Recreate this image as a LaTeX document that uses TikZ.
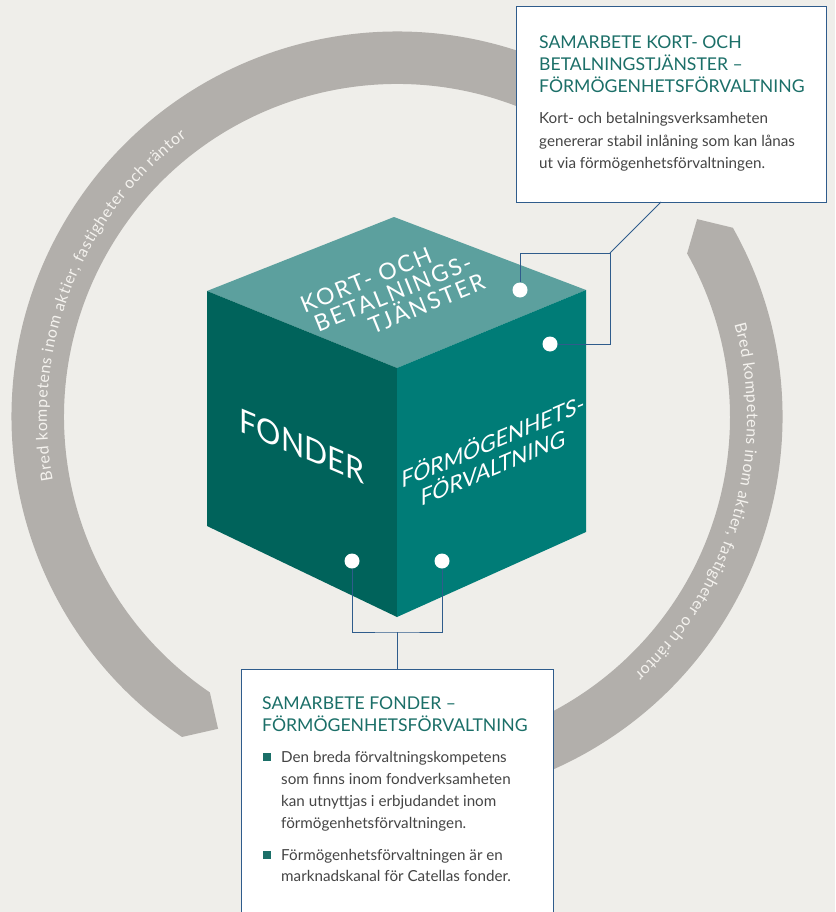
\documentclass[tikz,border=0pt]{standalone}
\usepackage{fontspec}
\setmainfont{Lato}
\usetikzlibrary{decorations.text}
\definecolor{bg}{HTML}{EFEEEA}
\definecolor{ring}{HTML}{B2AFAB}
\definecolor{topface}{HTML}{5CA09E}
\definecolor{leftface}{HTML}{00635B}
\definecolor{rightface}{HTML}{007C77}
\definecolor{titleteal}{HTML}{1B6F68}
\definecolor{bodygray}{HTML}{454545}
\definecolor{linkblue}{HTML}{2F5C8C}
\definecolor{ringtext}{HTML}{F4F2EE}
\tikzset{
  infobox/.style={draw=linkblue, line width=1pt, fill=white, inner sep=0pt},
  link/.style={draw=linkblue, line width=0.9pt},
  dot/.style={circle, fill=white, inner sep=0pt, minimum size=15pt},
  titletext/.style={anchor=base west, inner sep=0pt, text=titleteal, font=\fontsize{17.6}{22}\selectfont},
  bodytext/.style={anchor=base west, inner sep=0pt, text=bodygray, font=\fontsize{15.2}{22}\selectfont},
  bulletsq/.style={fill=titleteal, draw=none, inner sep=0pt, minimum size=8pt},
  cubetext/.style={inner sep=0pt, text=white, align=center},
  toptext/.style={cubetext, rotate=22, font=\fontsize{23}{23}\selectfont\addfontfeature{LetterSpace=9}},
}
\begin{document}
\begin{tikzpicture}[x=1pt,y=-1pt]
\useasboundingbox (0,0) rectangle (835,912);
\fill[bg] (0,0) rectangle (835,912);
\clip (0,0) rectangle (835,912);

% ring arcs
\fill[ring] ({397+385.5*cos(123.9)},{417+385.5*sin(123.9)}) arc[start angle=123.9, end angle=300, radius=385.5]
  -- ({397+333*cos(300)},{417+333*sin(300)}) arc[start angle=300, end angle=124.2, radius=333]
  -- ({397+359.5*cos(119.85)},{417+359.5*sin(119.85)}) -- cycle;
\fill[ring] ({397+385.5*cos(-29.4)},{417+385.5*sin(-29.4)}) arc[start angle=-29.4, end angle=100, radius=385.5]
  -- ({397+333*cos(100)},{417+333*sin(100)}) arc[start angle=100, end angle=-29.4, radius=333]
  -- ({397+359.5*cos(-33.4)},{417+359.5*sin(-33.4)}) -- cycle;

% ring texts
\path[decorate, decoration={text along path, text align=fit to path,
  text={|\fontsize{16}{16}\selectfont\color{ringtext}|Bred kompetens inom aktier, fastigheter och räntor}}]
  ({397+350*cos(169.5)},{417+350*sin(169.5)}) arc[start angle=169.5, end angle=233, radius=350];
\path[decorate, decoration={text along path, text align=fit to path,
  text={|\fontsize{16}{16}\selectfont\color{ringtext}|Bred kompetens inom aktier, fastigheter och räntor}}]
  ({397+350*cos(-15.4)},{417+350*sin(-15.4)}) arc[start angle=-15.4, end angle=47.2, radius=350];

% cube
\fill[topface] (394,217) -- (586,290) -- (397,368) -- (207,291) -- cycle;
\fill[leftface] (207,291) -- (397,368) -- (397,617) -- (207,526) -- cycle;
\fill[rightface] (397,368) -- (586,290) -- (586,532) -- (397,617) -- cycle;

\node[toptext] (k1) at (366,280) {KORT- OCH};
\node[toptext] (k2) at (393,293) {BETALNINGS-};
\node[toptext] (k3) at (426,302) {TJÄNSTER};
\node[cubetext, cm={0.9205,-0.3907,0,1,(0,0)}, font=\fontsize{33}{33}\selectfont] (fonder) at (302,446) {FONDER};
\node[cubetext, cm={0.9205,0.3907,0,1,(0,0)}, font=\fontsize{23}{26}\selectfont] (forv) at (493,453) {FÖRMÖGENHETS-\\FÖRVALTNING};

% dots
\node[dot] (d1) at (520,290) {};
\node[dot] (d2) at (550,344) {};
\node[dot] (d3) at (352,561) {};
\node[dot] (d4) at (442,561) {};

% boxes
\node[infobox, minimum width=310pt, minimum height=195pt] (box1) at (671,104.5) {};
\node[infobox, minimum width=312pt, minimum height=261pt] (box2) at (397,799.5) {};

% connectors
\coordinate (j1) at (610,253);
\coordinate (e1) at (661,202);
\coordinate (j2) at (397,632);
\draw[link] (d1) |- (j1);
\draw[link] (d2) -| (j1);
\draw[link] (j1) -- (e1);
\draw[link] (d3) |- (j2) -| (d4);
\draw[link] (j2) -- (box2.north);

% top box text
\node[titletext] (a1) at (539,48.3) {SAMARBETE KORT- OCH};
\node[titletext] (a2) at (539,70.5) {BETALNINGSTJÄNSTER –};
\node[titletext] (a3) at (539,93) {FÖRMÖGENHETSFÖRVALTNING};
\node[bodytext] (b1) at (539,124) {Kort- och betalningsverksamheten};
\node[bodytext] (b2) at (539,146.5) {genererar stabil inlåning som kan lånas};
\node[bodytext] (b3) at (539,168.5) {ut via förmögenhetsförvaltningen.};

% bottom box text
\node[titletext] (c1) at (262,709.3) {SAMARBETE FONDER –};
\node[titletext] (c2) at (262,731) {FÖRMÖGENHETSFÖRVALTNING};
\node[bulletsq] (s1) at (267.2,757.2) {};
\node[bodytext] (e1a) at (281,762.7) {Den breda förvaltningskompetens};
\node[bodytext] (e1b) at (281,784.5) {som finns inom fondverksamheten};
\node[bodytext] (e1c) at (281,806.5) {kan utnyttjas i erbjudandet inom};
\node[bodytext] (e1d) at (281,828.3) {förmögenhetsförvaltningen.};
\node[bulletsq] (s2) at (267.2,854.5) {};
\node[bodytext] (e2a) at (281,860) {Förmögenhetsförvaltningen är en};
\node[bodytext] (e2b) at (281,881.7) {marknadskanal för Catellas fonder.};
\end{tikzpicture}
\end{document}
